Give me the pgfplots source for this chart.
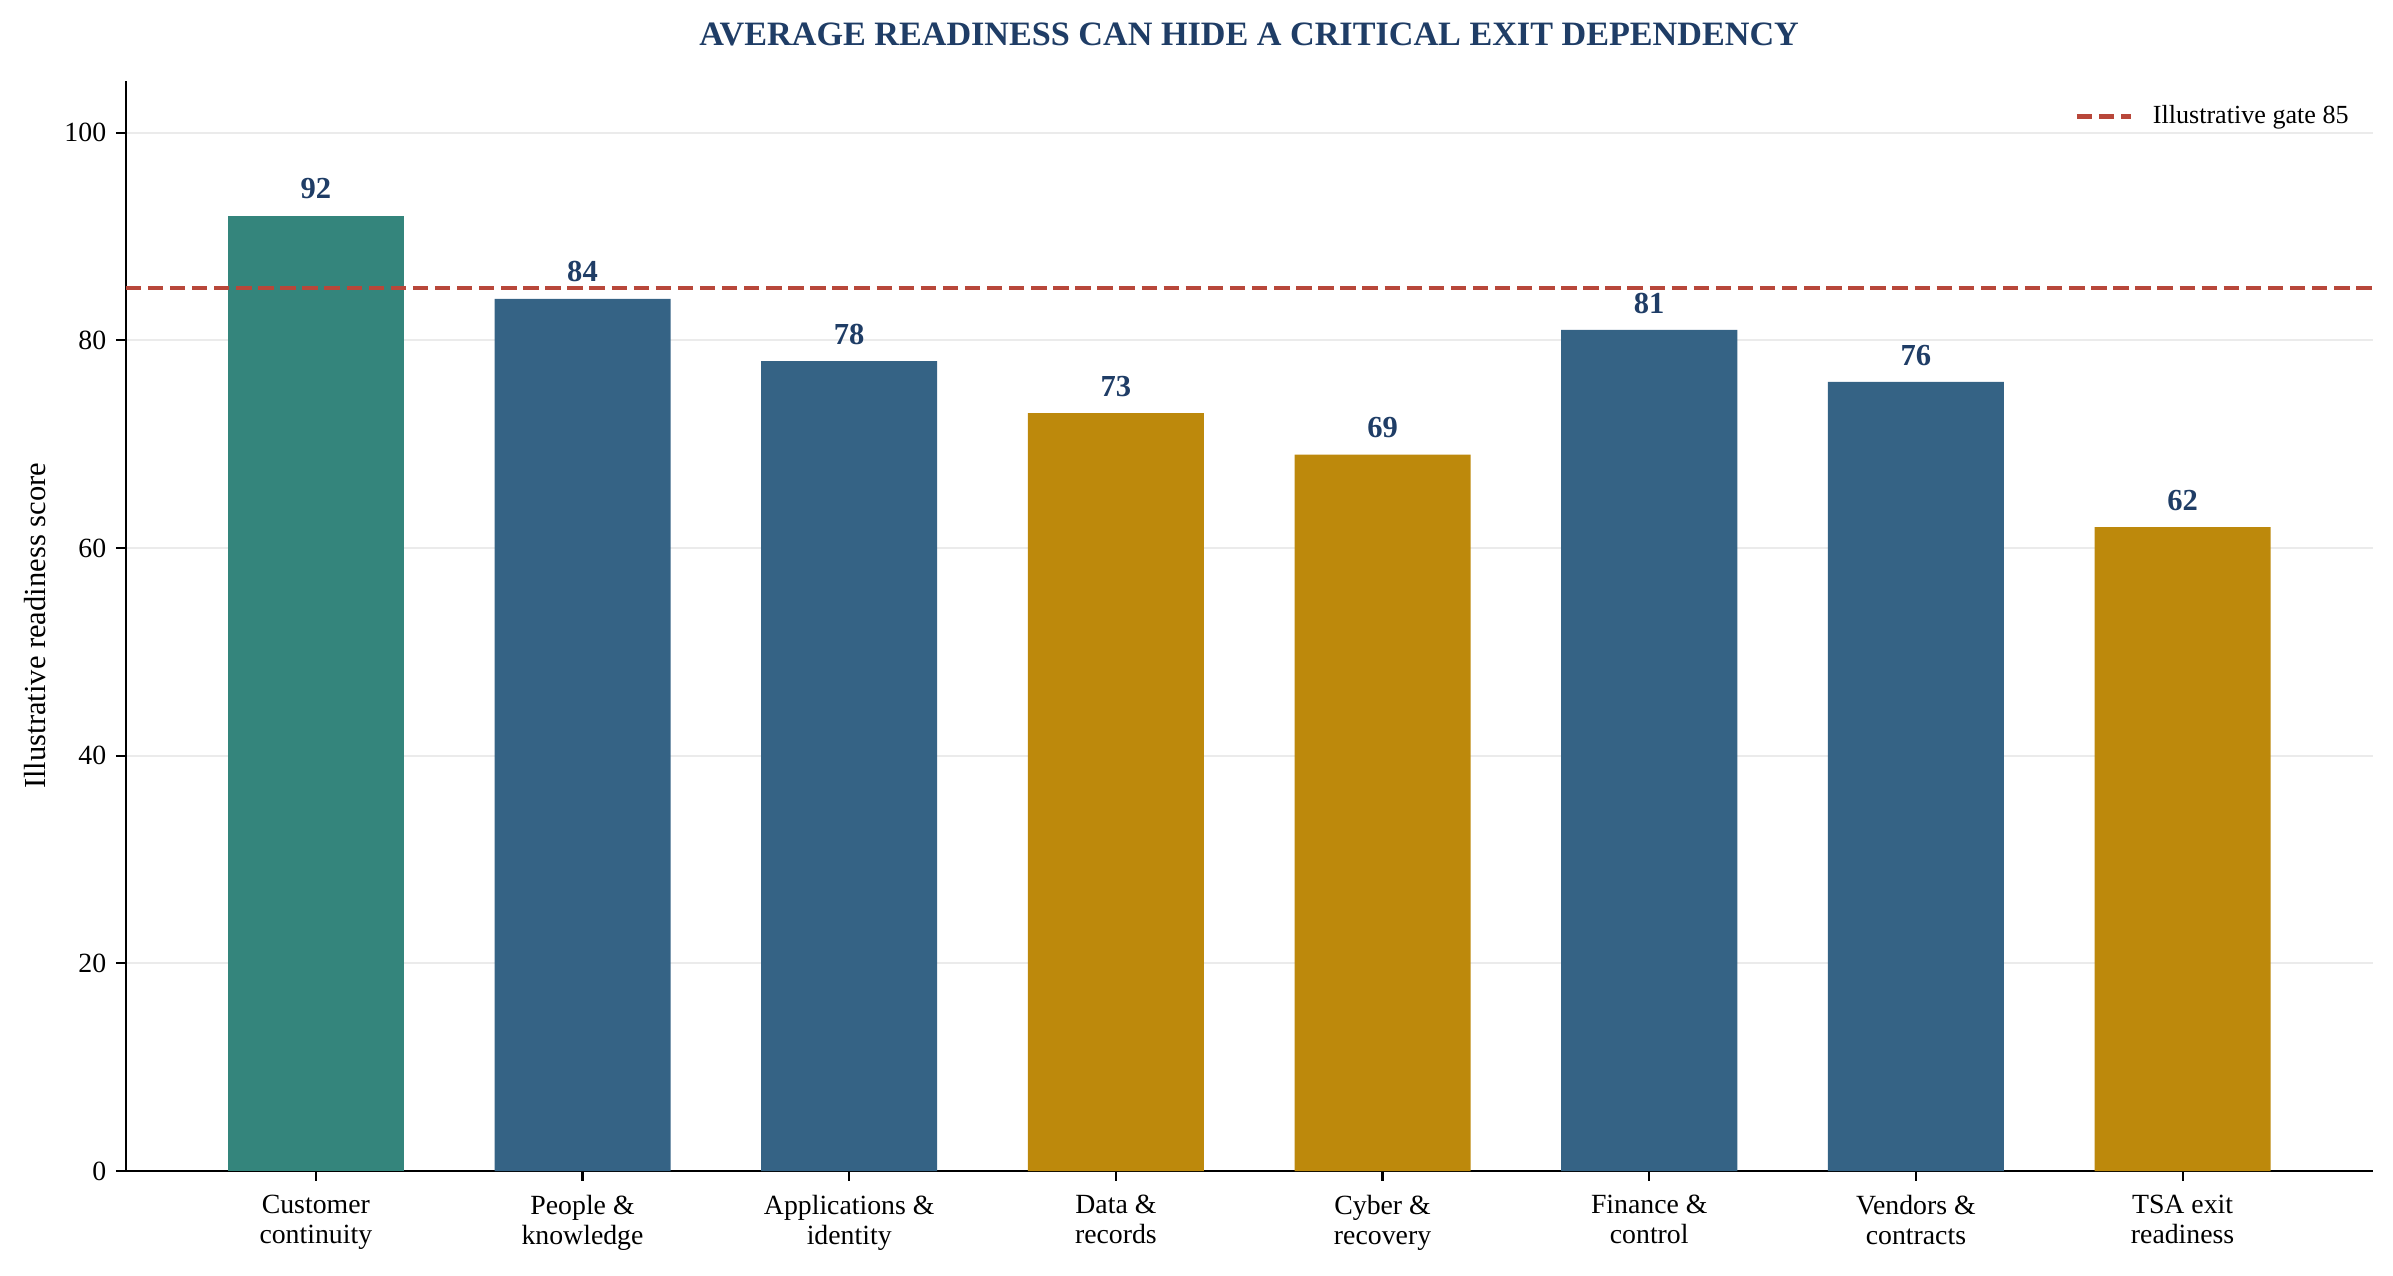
\documentclass[border=0pt]{standalone}
\usepackage{pgfplots}
\pgfplotsset{compat=1.18}
\usepackage{fontspec}
\setmainfont{Liberation Serif}
\definecolor{tealbar}{HTML}{34857C}
\definecolor{bluebar}{HTML}{356385}
\definecolor{goldbar}{HTML}{BD890C}
\definecolor{navy}{HTML}{1F3D66}
\definecolor{gate}{HTML}{B8473A}
\definecolor{gridc}{HTML}{EBEBEB}
\begin{document}
\begin{tikzpicture}
\useasboundingbox (-45.25pt,-37.44pt) rectangle (816.2pt,421.56pt);
\begin{axis}[
  at={(0pt,0pt)}, anchor=south west,
  scale only axis, width=808.9pt, height=392.5pt,
  xmin=-0.713, xmax=7.713, ymin=0, ymax=105,
  /pgf/number format/assume math mode=true,
  axis x line*=bottom, axis y line*=left,
  axis line style={black, line width=0.8pt},
  tick align=outside, major tick length=3.5pt,
  tick style={black, line width=0.8pt},
  xtick={0,1,2,3,4,5,6,7},
  xticklabels={{Customer\\continuity},{People \&\\knowledge},{Applications \&\\identity},{Data \&\\records},{Cyber \&\\recovery},{Finance \&\\control},{Vendors \&\\contracts},{TSA exit\\readiness}},
  xticklabel style={font=\fontsize{10}{10.9}\selectfont, align=center, yshift=-1.5pt},
  ytick={0,20,40,60,80,100},
  yticklabel style={font=\fontsize{10}{12}\selectfont},
  ymajorgrids, grid style={gridc, line width=0.7pt},
  ylabel={Illustrative readiness score},
  ylabel style={font=\fontsize{11}{13}\selectfont, at={(axis description cs:-0.03585,0.5)}, anchor=base, rotate=0},
  title={AVERAGE READINESS CAN HIDE A CRITICAL EXIT DEPENDENCY},
  title style={font=\bfseries\fontsize{12.3}{14}\selectfont, color=navy, at={(axis description cs:0.5,1.017)}, anchor=base},
  ybar, bar width=0.66, bar shift=0pt,
  nodes near coords,
  every node near coord/.append style={font=\bfseries\fontsize{11}{13}\selectfont, color=navy, inner sep=0pt, yshift=5.76pt},
  legend style={draw=none, fill=none, at={(axis description cs:0.9895,0.978)}, anchor=north east, inner sep=0pt, column sep=7.2pt, font=\fontsize{9.4}{11}\selectfont, nodes={inner sep=0pt}},
  legend image code/.code={\draw[#1] (0pt,0pt) -- (19.4pt,0pt);},
]
\addplot[fill=tealbar, draw=none, forget plot] coordinates {(0,92)};
\addplot[fill=bluebar, draw=none, forget plot] coordinates {(1,84) (2,78) (5,81) (6,76)};
\addplot[fill=goldbar, draw=none, forget plot] coordinates {(3,73) (4,69) (7,62)};
\addplot[sharp plot, no marks, nodes near coords={}, gate, line width=1.5pt, dash pattern=on 5.55pt off 2.4pt] coordinates {(-0.713,85) (7.713,85)};
\addlegendentry{Illustrative gate 85}
\end{axis}
\end{tikzpicture}
\end{document}
